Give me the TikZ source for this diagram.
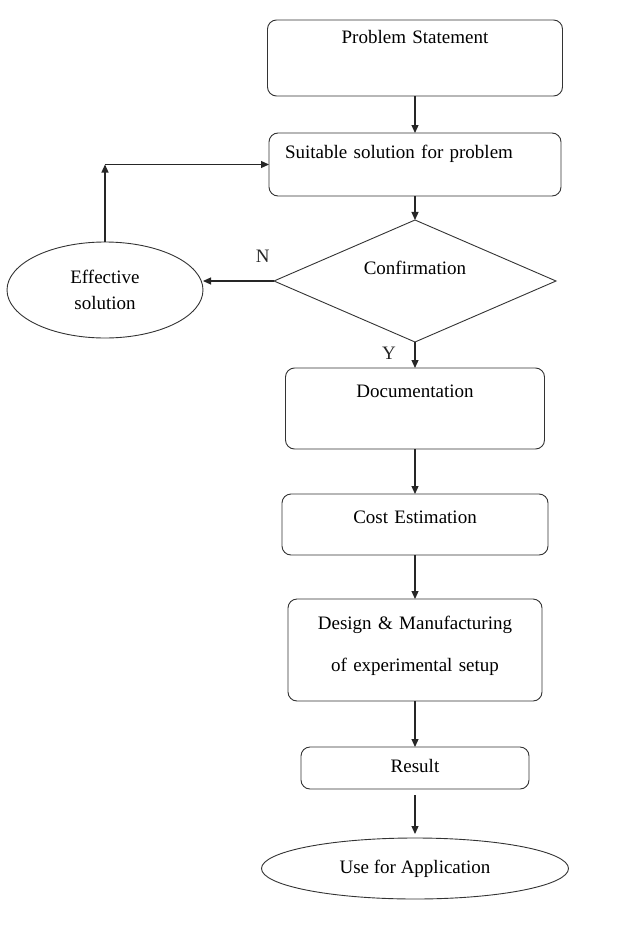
\documentclass[tikz,border=0pt]{standalone}
\usepackage{fontspec}
\setmainfont{Liberation Serif}
\usetikzlibrary{shapes.geometric, arrows.meta, positioning, calc}

\begin{document}
\begin{tikzpicture}[
    x=1pt, y=1pt,
    font=\fontsize{19}{23}\selectfont,
    stepbox/.style={rectangle, rounded corners=9pt, draw=black!80, line width=0.9pt, inner sep=0pt, outer sep=0pt, align=center},
    decision/.style={diamond, aspect=2.3, draw=black!80, line width=0.9pt, inner sep=0pt, outer sep=0pt, minimum width=282pt, minimum height=122pt},
    terminal/.style={ellipse, draw=black!80, line width=0.9pt, inner sep=0pt, outer sep=0pt, align=center},
    arrow/.style={-{Triangle[length=8pt, width=7pt]}, line width=1.2pt, black!85}
]
\useasboundingbox (0,0) rectangle (642,-942);

\node[stepbox, text width=295pt, text height=24pt, text depth=52pt] (problem) at (415,-58) {Problem Statement};
\node[stepbox, below=37pt of problem, align=left, inner xsep=16pt, text width=260pt, text height=25pt, text depth=38pt] (solution) {Suitable solution for problem};
\node[decision, below=24pt of solution, text height=14pt, text depth=28pt] (confirm) {Confirmation};
\node[terminal, left=71pt of confirm, yshift=-9pt, minimum width=196pt, minimum height=96pt] (effective) {Effective\\[3pt]solution};
\node[stepbox, below=26pt of confirm, text width=259pt, text height=29pt, text depth=52pt] (docs) {Documentation};
\node[stepbox, below=45pt of docs, text width=266pt, text height=29pt, text depth=32pt] (cost) {Cost Estimation};
\node[stepbox, below=44pt of cost, text width=254pt] (design) {\rule{0pt}{30pt}Design \& Manufacturing\\[19pt]of experimental setup\rule[-30pt]{0pt}{30pt}};
\node[stepbox, below=46pt of design, text width=228pt, text height=25pt, text depth=17pt] (result) {Result};
\node[terminal, below=49pt of result, minimum width=307pt, minimum height=61pt] (apply) {Use for Application};

\coordinate (corner) at (effective.north |- solution.west);

\draw[arrow] (problem) -- (solution);
\draw[arrow] (solution) -- (confirm);
\draw[arrow] (confirm.west) -- node[pos=0.16, yshift=25pt] {N} (confirm.west -| effective.east);
\draw[arrow] (effective.north) -- (corner);
\draw[arrow] (corner) -- (solution.west);
\draw[arrow] (confirm) -- node[pos=0.42, xshift=-26pt] {Y} (docs);
\draw[arrow] (docs) -- (cost);
\draw[arrow] (cost) -- (design);
\draw[arrow] (design) -- (result);
\draw[arrow, shorten <=6pt, shorten >=4pt] (result) -- (apply);

\end{tikzpicture}
\end{document}
